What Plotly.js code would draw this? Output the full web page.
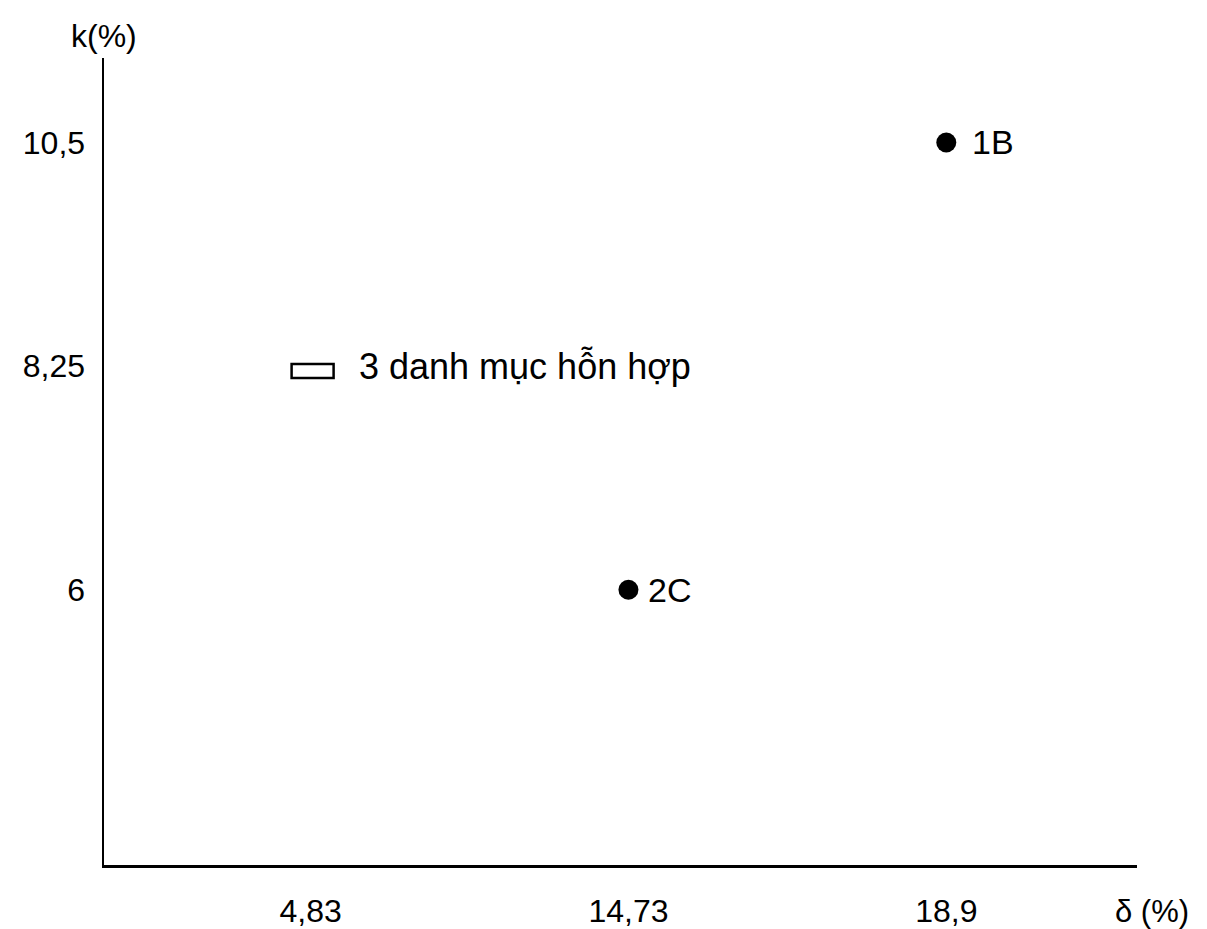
<!DOCTYPE html>
<html>
<head>
<meta charset="utf-8">
<script src="https://cdn.plot.ly/plotly-3.0.1.min.js"></script>
<style>html,body{margin:0;padding:0;background:#fff;}#chart{width:1207px;height:929px;}</style>
</head>
<body>
<div id="chart"></div>
<script>
// ---- data ----
const deltaCategories = ["4,83", "14,73", "18,9"];   // x tick labels (δ %)
const kTickVals = [6, 8.25, 10.5];
const kTickText = ["6", "8,25", "10,5"];
const pointNames = ["1B", "2C"];
const pointDelta = ["18,9", "14,73"];
const pointK = [10.5, 6];
const mixName = "3 danh mục hỗn hợp";
const mixDelta = "4,83";
const mixK = 8.25;

// ---- styles ----
const FONT = "Liberation Sans, Arial, Helvetica, sans-serif";
const labelShift = {"1B": 24, "2C": 18};

const traces = [{
  type: "scatter",
  mode: "markers",
  x: pointDelta,
  y: pointK,
  marker: {color: "#000", size: 20, line: {width: 0}},
  hoverinfo: "skip",
  showlegend: false
}];

const annotations = pointNames.map((n, i) => ({
  x: pointDelta[i], y: pointK[i], xref: "x", yref: "y",
  text: n, showarrow: false, xanchor: "left", xshift: labelShift[n],
  font: {family: FONT, size: 34, color: "#000"}
}));
annotations.push({
  x: mixDelta, y: mixK, xref: "x", yref: "y",
  text: mixName, showarrow: false, xanchor: "left", xshift: 46,
  font: {family: FONT, size: 36, color: "#000"}
});
annotations.push({
  x: 0, xref: "paper", xanchor: "center", y: 1, yref: "paper", yanchor: "bottom", yshift: 2,
  text: "k(%)", showarrow: false, font: {family: FONT, size: 32, color: "#000"}
});
annotations.push({
  x: 1, xref: "paper", xanchor: "left", xshift: -24, y: 0, yref: "paper", yanchor: "middle", yshift: -46,
  text: "δ (%)", showarrow: false, font: {family: FONT, size: 31, color: "#000"}
});

const shapes = [{
  type: "rect", xref: "x", yref: "y",
  xsizemode: "pixel", ysizemode: "pixel",
  xanchor: mixDelta, yanchor: mixK,
  x0: -19, x1: 23, y0: -12, y1: 2,
  line: {color: "#000", width: 2.5}, fillcolor: "#fff"
}];

const layout = {
  width: 1207, height: 929,
  margin: {l: 104, r: 70, t: 58, b: 64},
  paper_bgcolor: "#fff", plot_bgcolor: "#fff",
  showlegend: false,
  xaxis: {
    type: "category",
    categoryorder: "array", categoryarray: deltaCategories,
    range: [-0.65, 2.6],
    showgrid: false, zeroline: false,
    showline: true, linecolor: "#000", linewidth: 2.5,
    ticks: "", ticklabelstandoff: 16,
    tickfont: {family: FONT, size: 32, color: "#000"}
  },
  yaxis: {
    range: [3.23, 11.35],
    tickvals: kTickVals, ticktext: kTickText,
    showgrid: false, zeroline: false,
    showline: true, linecolor: "#000", linewidth: 2.5,
    ticks: "", ticklabelstandoff: 10,
    tickfont: {family: FONT, size: 32, color: "#000"}
  },
  annotations: annotations,
  shapes: shapes
};

Plotly.newPlot("chart", traces, layout, {displayModeBar: false, staticPlot: true});
</script>
</body>
</html>
